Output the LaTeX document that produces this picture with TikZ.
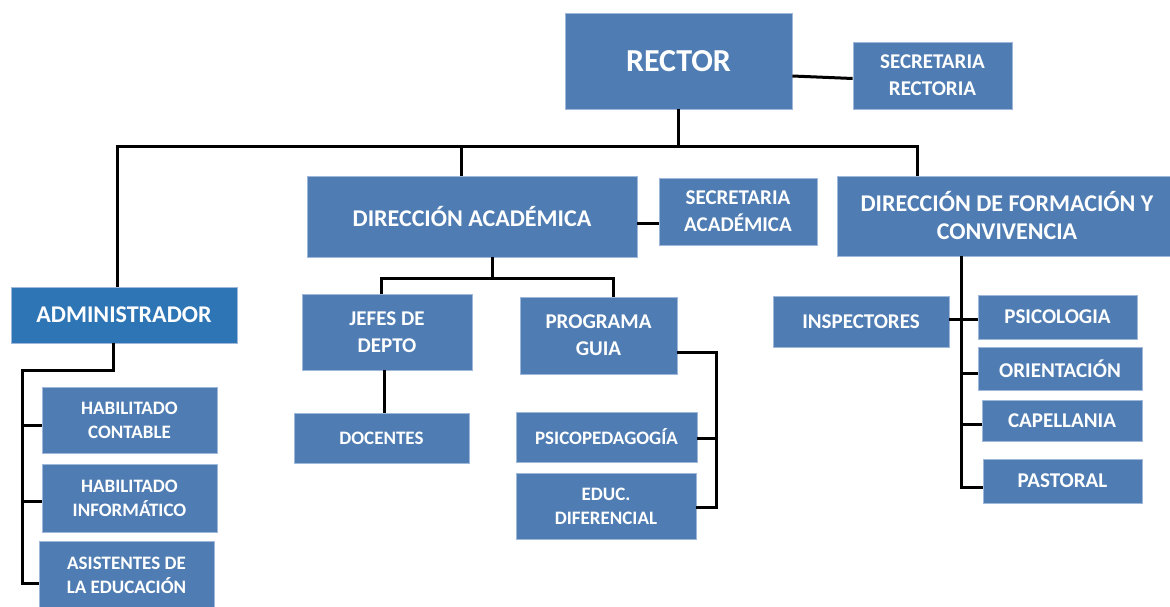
\documentclass[tikz,border=0pt]{standalone}
\usepackage{fontspec}
\setmainfont{Carlito}
\definecolor{boxblue}{HTML}{4F7DB3}
\definecolor{adminblue}{HTML}{2E75B6}
\definecolor{boxedge}{HTML}{9FB8DA}
\tikzset{
  box/.style={rectangle, fill=boxblue, draw=boxedge, line width=0.8pt, text=white, inner sep=0pt, align=center, font=\bfseries},
  big/.style={font=\bfseries\fontsize{32}{36}\selectfont},
  mid/.style={font=\bfseries\fontsize{24}{28}\selectfont},
  med/.style={font=\bfseries\fontsize{21}{27}\selectfont},
  sml/.style={font=\bfseries\fontsize{19}{24}\selectfont},
  conn/.style={draw=black, line width=3pt}
}
\begin{document}
\begin{tikzpicture}[x=1pt,y=-1pt]
\useasboundingbox (0,0) rectangle (1170,607);
\clip (0,0) rectangle (1170,607);
% nodes
\node[box,big,minimum width=227,minimum height=96] (rector) at (678.5,61) {RECTOR};
\node[box,med,minimum width=159,minimum height=67] (secr) at (932.5,75.5) {SECRETARIA\\RECTORIA};
\node[box,mid,minimum width=330,minimum height=81] (da) at (472,216.5) {DIRECCIÓN ACADÉMICA};
\node[box,med,minimum width=158,minimum height=67] (seca) at (738,211.5) {SECRETARIA\\ACADÉMICA};
\node[box,mid,minimum width=340,minimum height=80] (dfc) at (1007,216) {DIRECCIÓN DE FORMACIÓN Y\\CONVIVENCIA};
\node[box,mid,fill=adminblue,minimum width=226,minimum height=56] (admin) at (124,315) {ADMINISTRADOR};
\node[box,med,minimum width=170,minimum height=76] (jefes) at (387,332) {JEFES DE\\DEPTO};
\node[box,med,minimum width=157,minimum height=77] (pg) at (598.5,335.5) {PROGRAMA\\GUIA};
\node[box,sml,minimum width=175,minimum height=50] (doc) at (381.5,438) {DOCENTES};
\node[box,sml,minimum width=181,minimum height=50] (psp) at (606.5,437) {PSICOPEDAGOGÍA};
\node[box,sml,minimum width=180,minimum height=66] (educ) at (606,506) {EDUC.\\DIFERENCIAL};
\node[box,sml,minimum width=175,minimum height=66] (hc) at (129.5,420) {HABILITADO\\CONTABLE};
\node[box,sml,minimum width=175,minimum height=68] (hi) at (129.5,498) {HABILITADO\\INFORMÁTICO};
\node[box,sml,minimum width=175,minimum height=68] (ae) at (126.5,575) {ASISTENTES DE\\LA EDUCACIÓN};
\node[box,med,minimum width=176,minimum height=51] (insp) at (861,321.5) {INSPECTORES};
\node[box,med,minimum width=159,minimum height=44] (psic) at (1057.5,317) {PSICOLOGIA};
\node[box,med,minimum width=164,minimum height=43] (orie) at (1060,368.5) {ORIENTACIÓN};
\node[box,med,minimum width=160,minimum height=41] (cape) at (1062,420.5) {CAPELLANIA};
\node[box,med,minimum width=159,minimum height=44] (past) at (1062.5,481) {PASTORAL};
% coordinates
\coordinate (busL) at (117,147);
\coordinate (busR) at (917,147);
\coordinate (busD) at (461,147);
\coordinate (jb) at (381,278);
\coordinate (pb) at (613,278);
\coordinate (pgx) at (716,352);
\coordinate (ab) at (113,370);
\coordinate (al) at (22,370);
\coordinate (dx) at (961,300);
% connectors
\draw[conn] ([yshift=-15pt]rector.east) -- ([yshift=-3pt]secr.west);
\draw[conn] (rector.south) -- (rector.south |- busL);
\draw[conn] (admin.north -| busL) -- (busL) -- (busR) -- (dfc.north -| busR);
\draw[conn] (busD) -- (da.north -| busD);
\draw[conn] ([yshift=-6.5pt]da.east) -- ([yshift=-6.5pt]da.east -| seca.west);
\draw[conn] ([xshift=20pt]da.south) -- ([xshift=20pt]da.south |- jb);
\draw[conn] (jefes.north -| jb) -- (jb) -- (pb) -- (pg.north -| pb);
\draw[conn] ([xshift=-3pt]jefes.south) -- ([xshift=-3pt]jefes.south |- doc.north);
\draw[conn] (pg.east |- pgx) -- (pgx) |- ([yshift=-1pt]educ.east);
\draw[conn] ([yshift=-1pt]psp.east) -- ([yshift=-1pt]psp.east -| pgx);
\draw[conn] (admin.south -| ab) -- (ab) -- (al) |- ([yshift=-8pt]ae.west);
\draw[conn] ([yshift=-5pt]hc.west) -- ([yshift=-5pt]hc.west -| al);
\draw[conn] ([yshift=-3pt]hi.west) -- ([yshift=-3pt]hi.west -| al);
\draw[conn] (dfc.south -| dx) |- ([yshift=-6pt]past.west);
\draw[conn] ([yshift=2.5pt]insp.east) -- ([yshift=2.5pt]insp.east -| psic.west);
\draw[conn] ([yshift=-4.5pt]orie.west) -- ([yshift=-4.5pt]orie.west -| dx);
\draw[conn] ([yshift=-3.5pt]cape.west) -- ([yshift=-3.5pt]cape.west -| dx);
\end{tikzpicture}
\end{document}
